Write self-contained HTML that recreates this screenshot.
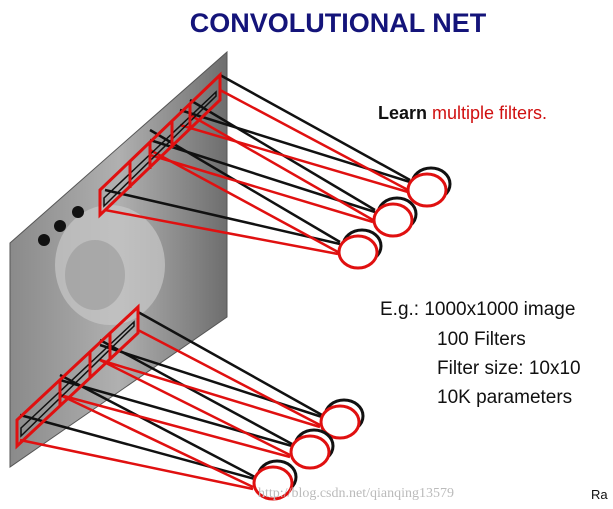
<!DOCTYPE html>
<html><head><meta charset="utf-8"><style>
html,body{margin:0;padding:0;background:#fff;}
svg{display:block;}
</style></head><body>
<svg width="613" height="509" viewBox="0 0 613 509" xmlns="http://www.w3.org/2000/svg">
<defs>
<linearGradient id="g" x1="0" y1="0" x2="1" y2="0">
<stop offset="0" stop-color="#8a8a8a"/><stop offset="0.5" stop-color="#b0b0b0"/><stop offset="1" stop-color="#6e6e6e"/>
</linearGradient>
</defs>
<text x="338" y="32" text-anchor="middle" font-family="Liberation Sans, sans-serif" font-size="27" font-weight="bold" fill="#14147a">CONVOLUTIONAL NET</text>
<text x="378" y="119" font-family="Liberation Sans, sans-serif" font-size="18" font-weight="bold" fill="#111">Learn <tspan fill="#d01010" font-weight="normal">multiple filters.</tspan></text>
<g font-family="Liberation Sans, sans-serif" font-size="19" fill="#111">
<text x="380" y="315">E.g.: 1000x1000 image</text>
<text x="437" y="345">100 Filters</text>
<text x="437" y="374">Filter size: 10x10</text>
<text x="437" y="403">10K parameters</text>
</g>
<g>
<polygon points="10,243 227,52 227,317 10,467" fill="url(#g)" stroke="#555"/>
<ellipse cx="110" cy="265" rx="55" ry="60" fill="#c8c8c8" opacity="0.7"/>
<ellipse cx="95" cy="275" rx="30" ry="35" fill="#9a9a9a" opacity="0.6"/>
<circle cx="44" cy="240" r="6" fill="#111"/><circle cx="60" cy="226" r="6" fill="#111"/><circle cx="78" cy="212" r="6" fill="#111"/>
</g>
<g stroke-width="2.5" fill="none">
<g stroke="#111">
<line x1="220" y1="75" x2="410" y2="180"/><line x1="180" y1="110" x2="410" y2="182"/>
<line x1="190" y1="100" x2="375" y2="210"/><line x1="150" y1="140" x2="375" y2="212"/>
<line x1="150" y1="130" x2="340" y2="242"/><line x1="105" y1="190" x2="340" y2="244"/>
<line x1="138" y1="312" x2="322" y2="415"/><line x1="100" y1="345" x2="322" y2="417"/>
<line x1="100" y1="340" x2="292" y2="444"/><line x1="60" y1="380" x2="292" y2="446"/>
<line x1="60" y1="375" x2="255" y2="477"/><line x1="20" y1="415" x2="255" y2="479"/>
</g>
<g stroke="#e01010">
<line x1="220" y1="90" x2="408" y2="190"/><line x1="180" y1="125" x2="408" y2="192"/>
<line x1="190" y1="115" x2="373" y2="220"/><line x1="150" y1="155" x2="373" y2="222"/>
<line x1="150" y1="150" x2="338" y2="252"/><line x1="105" y1="210" x2="338" y2="254"/>
<line x1="138" y1="330" x2="320" y2="425"/><line x1="100" y1="360" x2="320" y2="427"/>
<line x1="100" y1="360" x2="290" y2="455"/><line x1="60" y1="395" x2="290" y2="457"/>
<line x1="60" y1="395" x2="253" y2="487"/><line x1="20" y1="440" x2="253" y2="489"/>
</g>
</g>
<g stroke="#e01010" stroke-width="3" fill="none">
<polygon points="100,190 220,75 220,100 100,215"/>
<polygon points="104,198 216,92 216,96 104,206" stroke="#111" stroke-width="1.5"/>
<line x1="130" y1="162" x2="130" y2="188"/><line x1="150" y1="143" x2="150" y2="169"/>
<line x1="172" y1="122" x2="172" y2="148"/><line x1="190" y1="104" x2="190" y2="130"/>
<polygon points="17,420 138,307 138,333 17,446"/>
<polygon points="21,428 134,322 134,326 21,436" stroke="#111" stroke-width="1.5"/>
<line x1="60" y1="380" x2="60" y2="406"/><line x1="90" y1="352" x2="90" y2="378"/><line x1="110" y1="333" x2="110" y2="359"/>
</g>
<g stroke-width="3" fill="#fff">
<ellipse cx="431" cy="184" rx="19" ry="16" stroke="#111"/><ellipse cx="427" cy="190" rx="19" ry="16" stroke="#e01010"/>
<ellipse cx="397" cy="214" rx="19" ry="16" stroke="#111"/><ellipse cx="393" cy="220" rx="19" ry="16" stroke="#e01010"/>
<ellipse cx="362" cy="246" rx="19" ry="16" stroke="#111"/><ellipse cx="358" cy="252" rx="19" ry="16" stroke="#e01010"/>
<ellipse cx="344" cy="416" rx="19" ry="16" stroke="#111"/><ellipse cx="340" cy="422" rx="19" ry="16" stroke="#e01010"/>
<ellipse cx="314" cy="446" rx="19" ry="16" stroke="#111"/><ellipse cx="310" cy="452" rx="19" ry="16" stroke="#e01010"/>
<ellipse cx="277" cy="477" rx="19" ry="16" stroke="#111"/><ellipse cx="273" cy="483" rx="19" ry="16" stroke="#e01010"/>
</g>
<text x="258" y="497" font-family="Liberation Serif, serif" font-size="14" fill="#bbb">http://blog.csdn.net/qianqing13579</text>
<text x="591" y="499" font-family="Liberation Sans, sans-serif" font-size="13" fill="#111">Ra</text>
</svg>
</body></html>
